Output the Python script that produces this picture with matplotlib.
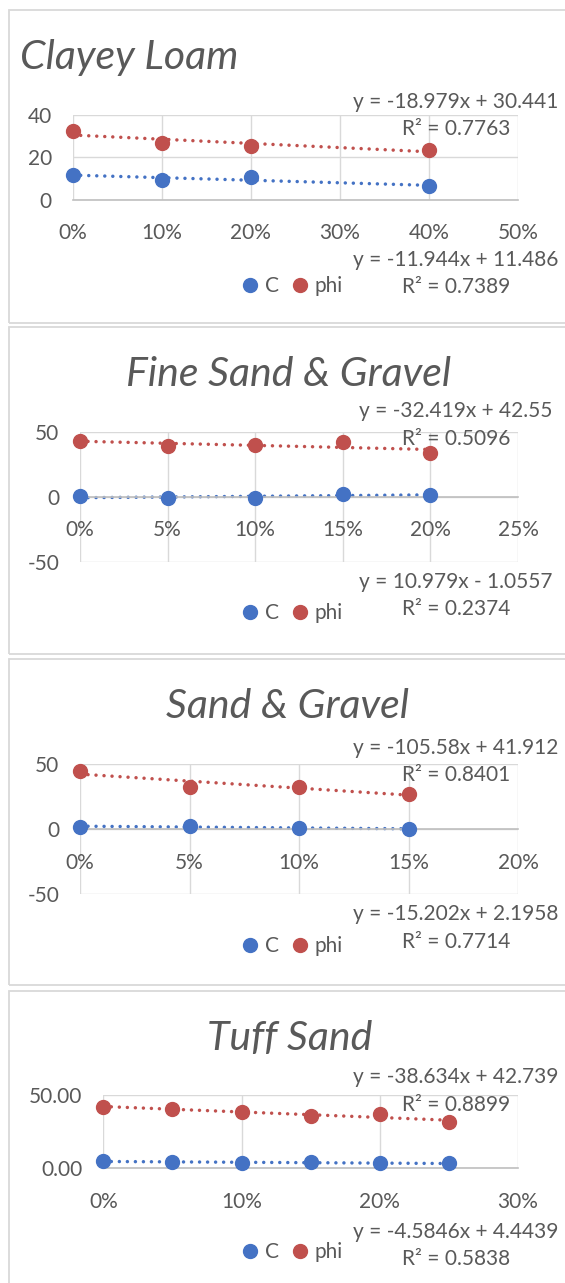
import matplotlib
matplotlib.use("Agg")
import matplotlib.pyplot as plt
import numpy as np
from matplotlib.lines import Line2D
from matplotlib.patches import Rectangle
from matplotlib.ticker import PercentFormatter, StrMethodFormatter

# --- data --------------------------------------------------------------------
clay_x = [0.00, 0.10, 0.20, 0.40]
clay_c = [11.8, 9.0, 10.6, 6.3]
clay_phi = [32.4, 26.8, 25.4, 23.6]

fsg_x = [0.00, 0.05, 0.10, 0.15, 0.20]
fsg_c = [0.5, -1.3, -1.3, 2.2, 1.5]
fsg_phi = [43.0, 39.3, 39.5, 41.8, 33.8]

sg_x = [0.00, 0.05, 0.10, 0.15]
sg_c = [1.8, 2.3, 1.0, 0.0]
sg_phi = [44.8, 32.5, 32.5, 26.9]

tuff_x = [0.00, 0.05, 0.10, 0.15, 0.20, 0.25]
tuff_c = [4.8, 4.6, 3.4, 4.2, 3.4, 3.4]
tuff_phi = [42.0, 40.2, 38.6, 35.7, 37.0, 31.4]

titles = ["Clayey Loam", "Fine Sand & Gravel", "Sand & Gravel", "Tuff Sand"]
phi_eqs = ["y = -18.979x + 30.441\nR² = 0.7763",
           "y = -32.419x + 42.55\nR² = 0.5096",
           "y = -105.58x + 41.912\nR² = 0.8401",
           "y = -38.634x + 42.739\nR² = 0.8899"]
c_eqs = ["y = -11.944x + 11.486\nR² = 0.7389",
         "y = 10.979x - 1.0557\nR² = 0.2374",
         "y = -15.202x + 2.1958\nR² = 0.7714",
         "y = -4.5846x + 4.4439\nR² = 0.5838"]

BLUE = "#4472C4"
RED = "#C0504D"
TXT = "#595959"
GRID = "#D9D9D9"

W, H = 565, 1283
plt.rcParams["font.family"] = ["Lato", "DejaVu Sans"]
plt.rcParams["axes.unicode_minus"] = False

fig = plt.figure(figsize=(W / 100, H / 100), dpi=100)


def fx(px):
    return px / W


def fy(py):
    return 1 - py / H


def frame(top, bottom):
    fig.add_artist(Rectangle((fx(8.5), fy(bottom)), fx(700), (bottom - top) / H,
                             transform=fig.transFigure, fill=False,
                             ec=GRID, lw=1.3))


def panel(box, x, c, phi, xlim, ylim, xticks, yticks, yfmt):
    left, top, right, bottom = box
    ax = fig.add_axes([fx(left), fy(bottom), (right - left) / W, (bottom - top) / H])
    ax.set_xlim(*xlim)
    ax.set_ylim(*ylim)
    ax.set_xticks(xticks)
    ax.set_yticks(yticks)
    ax.xaxis.set_major_formatter(PercentFormatter(xmax=1, decimals=0))
    ax.yaxis.set_major_formatter(yfmt)
    for s in ["top", "right", "left"]:
        ax.spines[s].set_visible(False)
    ax.spines["bottom"].set_position(("data", 0))
    ax.spines["bottom"].set_color("#BFBFBF")
    ax.spines["bottom"].set_linewidth(1.2)
    ax.grid(True, color=GRID, lw=1.0)
    ax.set_axisbelow(True)
    ax.tick_params(length=0, labelsize=15, colors=TXT)
    ax.tick_params(axis="x", pad=17)
    ax.tick_params(axis="y", pad=15)

    for ys, col in [(c, BLUE), (phi, RED)]:
        k, b = np.polyfit(x, ys, 1)
        xs = np.array([min(x), max(x)])
        ax.plot(xs, k * xs + b, color=col, lw=2.5, linestyle=(0, (0.01, 2.3)),
                dash_capstyle="round", zorder=2)
        ax.plot(x, ys, "o", color=col, ms=10, zorder=3, clip_on=False)
    return ax


def texts(title, title_xy, title_ha, eq1, eq1_y, eq2, eq2_y, leg_y):
    fig.text(fx(title_xy[0]), fy(title_xy[1]), title, ha=title_ha, va="center",
             fontsize=29.5, style="italic", color=TXT)
    for eq, y in [(eq1, eq1_y), (eq2, eq2_y)]:
        fig.text(fx(456), fy(y), eq, ha="center", va="center", fontsize=15,
                 color=TXT, linespacing=1.45, multialignment="center")
    handles = [Line2D([], [], ls="none", marker="o", ms=10, color=BLUE),
               Line2D([], [], ls="none", marker="o", ms=10, color=RED)]
    fig.legend(handles, ["C", "phi"], loc="center", ncol=2, frameon=False,
               bbox_to_anchor=(fx(292), fy(leg_y)), bbox_transform=fig.transFigure,
               fontsize=15, labelcolor=TXT, handlelength=0.8, handletextpad=0.3,
               columnspacing=0.6, borderpad=0)


# panel frames
frame(10, 323)
frame(327, 653.5)
frame(658.5, 985)
frame(990.5, 1400)

panel((72.7, 115, 518, 199.5), clay_x, clay_c, clay_phi, (0, 0.5), (0, 40),
      np.arange(0, 0.51, 0.1), [0, 20, 40], StrMethodFormatter("{x:.0f}"))
texts(titles[0], (20, 58), "left", phi_eqs[0], 115.5, c_eqs[0], 273.5, 286)

panel((80, 431.7, 518, 561.7), fsg_x, fsg_c, fsg_phi, (0, 0.25), (-50, 50),
      np.arange(0, 0.251, 0.05), [-50, 0, 50], StrMethodFormatter("{x:.0f}"))
texts(titles[1], (289, 374), "center", phi_eqs[1], 425, c_eqs[1], 595.5, 613)

panel((80, 764, 518, 894.3), sg_x, sg_c, sg_phi, (0, 0.2), (-50, 50),
      np.arange(0, 0.201, 0.05), [-50, 0, 50], StrMethodFormatter("{x:.0f}"))
texts(titles[2], (288, 706), "center", phi_eqs[2], 761.5, c_eqs[2], 928, 946.5)

panel((103.3, 1095, 518, 1168.3), tuff_x, tuff_c, tuff_phi, (0, 0.3), (0, 50),
      np.arange(0, 0.301, 0.1), [0, 50], StrMethodFormatter("{x:.2f}"))
texts(titles[3], (290, 1038), "center", phi_eqs[3], 1091, c_eqs[3], 1245.5, 1252.5)

fig.savefig("out.png", dpi=100, facecolor="white")
